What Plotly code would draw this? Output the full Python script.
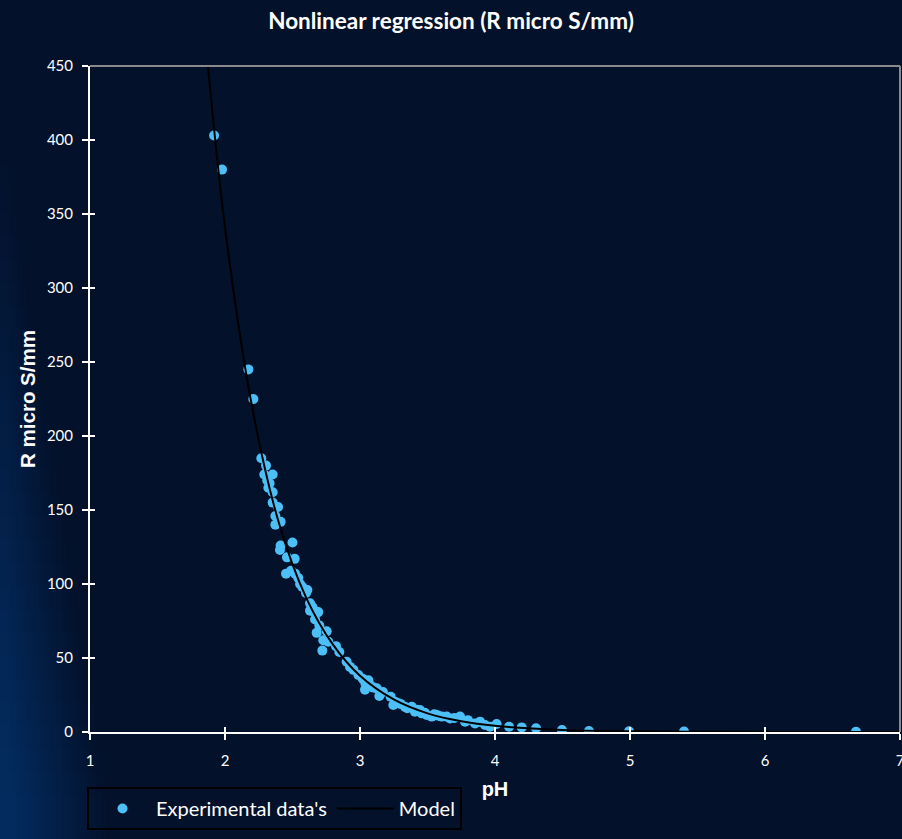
import plotly.graph_objects as go

ph_exp = [1.919, 1.978, 2.173, 2.210, 2.269, 2.304, 2.291, 2.353, 2.313, 2.321,
          2.330, 2.353, 2.353, 2.393, 2.373, 2.412, 2.373, 2.412, 2.407, 2.500,
          2.459, 2.516, 2.452, 2.489, 2.519, 2.543, 2.556, 2.573, 2.600, 2.610,
          2.630, 2.642, 2.630, 2.650, 2.691, 2.670, 2.667, 2.699, 2.679, 2.753,
          2.728, 2.765, 2.721, 2.822, 2.847, 2.901, 2.926, 2.951, 2.988, 3.020,
          3.040, 3.062, 3.074, 3.037, 3.100, 3.124, 3.143, 3.170, 3.227, 3.247,
          3.284, 3.259, 3.300, 3.333, 3.350, 3.383, 3.407, 3.420, 3.444, 3.457,
          3.480, 3.494, 3.531, 3.550, 3.568, 3.580, 3.605, 3.642, 3.667, 3.700,
          3.741, 3.778, 3.800, 3.852, 3.889, 3.926, 3.963, 4.012, 4.104, 4.198,
          4.304, 4.496, 4.696, 4.993, 5.400, 6.674]
r_exp = [403, 380, 245, 225, 185, 180, 174, 174, 170, 165,
         168, 162, 155, 152, 146, 142, 140, 126, 123, 128,
         118, 117, 107, 109, 107, 104, 100, 98, 94, 96,
         87, 85, 82, 84, 81, 80, 76, 72, 67, 68,
         62, 61, 55, 58, 54, 47.5, 44, 42, 38.5, 36,
         33, 35, 31.8, 28.5, 30, 29.5, 24.3, 27, 23.9, 18.2,
         19.4, 20.5, 19, 17, 16, 17, 13.7, 15, 14.9, 12.6,
         13, 11.5, 10.4, 12, 11.5, 11, 10.4, 10.4, 9.2, 9.5,
         10.4, 7, 8, 5.8, 7, 4.7, 3.6, 5.4, 3.6, 3.1,
         2.5, 1.35, 0.7, 0.5, 0.3, 0.2]

# Model curve
ph_model = [1.80, 1.874, 2.0, 2.2, 2.4, 2.6, 2.8, 3.0, 3.25, 3.5, 3.75, 4.0,
            4.5, 5.0, 5.5, 6.0, 7.0]
r_model = [529, 450, 341, 220, 141, 91, 59, 38, 22, 12.6, 7.3, 4.2,
           1.4, 0.46, 0.15, 0.05, 0.0]

x_ticks = [1, 2, 3, 4, 5, 6, 7]
y_ticks = [0, 50, 100, 150, 200, 250, 300, 350, 400, 450]

BG = "#03112a"

fig = go.Figure()
fig.add_trace(go.Scatter(
    x=ph_exp, y=r_exp, mode="markers", name="Experimental data's",
    marker=dict(color="#4DBFF7", size=10, line=dict(width=0)),
))
fig.add_trace(go.Scatter(
    x=ph_model, y=r_model, mode="lines", name="Model",
    line=dict(color="#000000", width=2, shape="spline"),
))
# empty helper trace so the overlay axes (inner half of the crossing ticks) are drawn
fig.add_trace(go.Scatter(x=[], y=[], xaxis="x2", yaxis="y2", showlegend=False,
                         hoverinfo="skip"))

# soft lighter glow on the lower-left of the background
shapes = []
n = 28
for i in range(n):
    shapes.append(dict(
        type="rect", xref="paper", yref="paper", layer="below",
        x0=-0.12, x1=-0.10 + i * 0.0045, y0=-0.2, y1=0.85 - i * 0.035,
        fillcolor="rgba(40,75,150,0.022)", line=dict(width=0),
    ))
# grey frame on top and right
shapes.append(dict(type="line", xref="paper", yref="paper", x0=0, x1=1, y0=1, y1=1,
                   line=dict(color="#8a8a8a", width=2)))
shapes.append(dict(type="line", xref="paper", yref="paper", x0=1, x1=1, y0=0, y1=1,
                   line=dict(color="#8a8a8a", width=2)))

tick_common = dict(tickcolor="#ffffff", tickwidth=1.5)

fig.update_layout(
    width=902, height=839, autosize=False,
    margin=dict(l=90, r=2, t=66, b=107, autoexpand=False),
    paper_bgcolor=BG,
    plot_bgcolor="rgba(0,0,0,0)",
    shapes=shapes,
    title=dict(text="<b>Nonlinear regression (R micro S/mm)</b>", x=0.5, xanchor="center",
               y=1 - 21 / 839, yanchor="middle",
               font=dict(family="Lato", size=22.5, color="#ffffff")),
    showlegend=True,
    legend=dict(orientation="h", x=-0.0037, xanchor="left", y=-0.0826, yanchor="top",
                bgcolor="rgba(0,0,0,0)", bordercolor="#000000", borderwidth=2,
                itemwidth=57,
                font=dict(family="Lato", size=20, color="#ffffff")),
    xaxis=dict(range=[1, 7], tickvals=x_ticks, ticktext=[str(v) for v in x_ticks],
               automargin=False,
               showgrid=False, zeroline=False, showline=True, linecolor="#ffffff", linewidth=2,
               ticks="outside", ticklen=6, **tick_common,
               ticklabelstandoff=8, layer="below traces", ticklabeloverflow="allow",
               tickfont=dict(family="Lato", size=15, color="#ffffff"),
               title=dict(text="<b>pH</b>", standoff=14,
                          font=dict(family="Liberation Sans", size=20, color="#ffffff"))),
    yaxis=dict(range=[0, 450], tickvals=y_ticks, ticktext=[str(v) for v in y_ticks],
               automargin=False,
               showgrid=False, zeroline=False, showline=True, linecolor="#ffffff", linewidth=2,
               ticks="outside", ticklen=6, **tick_common,
               ticklabelstandoff=6, layer="below traces", ticklabeloverflow="allow",
               tickfont=dict(family="Lato", size=15, color="#ffffff"),
               title=dict(text="<b>R micro S/mm</b>", standoff=6,
                          font=dict(family="Liberation Sans", size=20.5, color="#ffffff"))),
    xaxis2=dict(overlaying="x", matches="x", range=[1, 7], tickvals=x_ticks, automargin=False,
                showticklabels=False, showgrid=False, zeroline=False, showline=False,
                ticks="inside", ticklen=5, **tick_common, side="bottom"),
    yaxis2=dict(overlaying="y", matches="y", range=[0, 450], tickvals=y_ticks, automargin=False,
                showticklabels=False, showgrid=False, zeroline=False, showline=False,
                ticks="inside", ticklen=5, **tick_common, side="left"),
)

fig.write_html(
    "out.html",
    config={"displayModeBar": False, "responsive": False},
    post_script=(
        "document.documentElement.style.margin='0';"
        "document.documentElement.style.overflow='hidden';"
        "document.body.style.margin='0';"
        "document.body.style.overflow='hidden';"
        "document.body.style.background='" + BG + "';"
        "var gd=document.getElementById('{plot_id}');"
        "gd.style.width='902px';gd.style.height='839px';"
        "Plotly.relayout(gd,{width:902,height:839});"
    ),
)
